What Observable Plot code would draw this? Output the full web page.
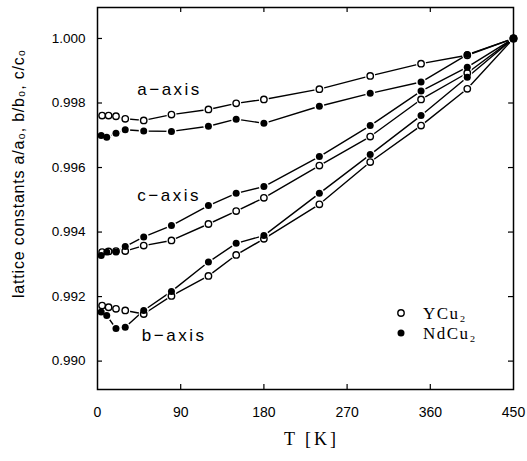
<!DOCTYPE html>
<html>
<head>
<meta charset="utf-8">
<script src="https://cdn.jsdelivr.net/npm/d3@7"></script>
<script src="https://cdn.jsdelivr.net/npm/@observablehq/plot@0.6"></script>
<style>
  html, body { margin: 0; padding: 0; background: white; }
</style>
</head>
<body>
<div id="chart"></div>
<script>
// Temperatures (K)
const tempsY  = [5, 12, 20, 30, 50, 80, 120, 150, 180, 240, 295, 350, 400, 450];
const tempsNd = [4, 10, 20, 30, 50, 80, 120, 150, 180, 240, 295, 350, 400, 450];

// Relative lattice constants, YCu2 (open circles)
const aYCu2 = [0.99761, 0.99761, 0.99759, 0.99751, 0.99746, 0.99764, 0.99780, 0.99799, 0.99811, 0.99843, 0.99884, 0.99922, 0.99948, 1.0000];
const bYCu2 = [0.99172, 0.99167, 0.99162, 0.99157, 0.99146, 0.99202, 0.99264, 0.99329, 0.99379, 0.99486, 0.99617, 0.99730, 0.99844, 1.0000];
const cYCu2 = [0.99338, 0.99340, 0.99341, 0.99341, 0.99358, 0.99374, 0.99425, 0.99465, 0.99506, 0.99606, 0.99696, 0.99811, 0.99893, 1.0000];

// Relative lattice constants, NdCu2 (filled circles)
const aNdCu2 = [0.99699, 0.99694, 0.99706, 0.99717, 0.99713, 0.99712, 0.99728, 0.99750, 0.99737, 0.99790, 0.99830, 0.99865, 0.99950, 1.0000];
const bNdCu2 = [0.99152, 0.99141, 0.99101, 0.99105, 0.99157, 0.99216, 0.99307, 0.99365, 0.99389, 0.99520, 0.99640, 0.99761, 0.99880, 1.0000];
const cNdCu2 = [0.99327, 0.99338, 0.99338, 0.99355, 0.99385, 0.99420, 0.99482, 0.99520, 0.99541, 0.99634, 0.99730, 0.99837, 0.99911, 1.0000];

const compounds = ["YCu₂", "NdCu₂"];
const axisNames = ["a−axis", "b−axis", "c−axis"];
// label anchor (data units) for each axis annotation
const axisLabelT = [43, 48, 43];
const axisLabelV = [0.99842, 0.99079, 0.99513];

const xTicks = [0, 90, 180, 270, 360, 450];
const yTicks = [0.990, 0.992, 0.994, 0.996, 0.998, 1.000];
const xLabel = "T [K]";
const yLabel = "lattice constants a/a₀, b/b₀, c/c₀";

// Build table
const series = [
  {axis: "a", compound: compounds[0], T: tempsY, v: aYCu2},
  {axis: "b", compound: compounds[0], T: tempsY, v: bYCu2},
  {axis: "c", compound: compounds[0], T: tempsY, v: cYCu2},
  {axis: "a", compound: compounds[1], T: tempsNd, v: aNdCu2},
  {axis: "b", compound: compounds[1], T: tempsNd, v: bNdCu2},
  {axis: "c", compound: compounds[1], T: tempsNd, v: cNdCu2}
];
const rows = series.flatMap(s => s.v.map((v, i) => ({T: s.T[i], v, axis: s.axis, compound: s.compound, key: s.axis + s.compound})));
const rowsY = rows.filter(d => d.compound === compounds[0]);
const rowsNd = rows.filter(d => d.compound === compounds[1]);
const annotations = axisNames.map((name, i) => ({name, T: axisLabelT[i], v: axisLabelV[i]}));

const W = 527, H = 461;
const mL = 97, mR = 14, mT = 7, mB = 72;
const pw = W - mL - mR, ph = H - mT - mB;
const tl = 5;

const chart = Plot.plot({
  width: W, height: H,
  marginLeft: mL, marginRight: mR, marginTop: mT, marginBottom: mB,
  style: {fontFamily: "'Liberation Sans', Arial, sans-serif", fontSize: "13px", background: "white", color: "black"},
  x: {domain: [0, 450], label: null},
  y: {domain: [0.98912, 1.00096], label: null},
  marks: [
    Plot.axisX(xTicks, {tickSize: 0, tickPadding: 18, fontSize: 14, label: null}),
    Plot.axisY(yTicks, {tickSize: 0, tickPadding: 12, fontSize: 13.5, tickFormat: d => d.toFixed(3), label: null}),
    // inward ticks
    Plot.tickX(xTicks.slice(1, -1), {x: d => d, insetBottom: ph - tl, stroke: "black", strokeWidth: 1.2}),
    Plot.tickX(xTicks.slice(1, -1), {x: d => d, insetTop: ph - tl, stroke: "black", strokeWidth: 1.2}),
    Plot.tickY(yTicks, {y: d => d, insetRight: pw - tl, stroke: "black", strokeWidth: 1.2}),
    Plot.tickY(yTicks, {y: d => d, insetLeft: pw - tl, stroke: "black", strokeWidth: 1.2}),
    // lines
    Plot.line(rows, {x: "T", y: "v", z: "key", stroke: "black", strokeWidth: 1.4}),
    // halos to create gaps around markers
    Plot.dot(rows, {x: "T", y: "v", r: 5, fill: "white", stroke: "none"}),
    Plot.dot(rowsY, {x: "T", y: "v", r: 3.2, fill: "white", stroke: "black", strokeWidth: 1.4}),
    Plot.dot(rowsNd, {x: "T", y: "v", r: 3.5, fill: "black", stroke: "none"}),
    // axis annotations
    Plot.text(annotations, {x: "T", y: "v", text: "name", textAnchor: "start", fontSize: 17, fill: "black"}),
    Plot.frame({stroke: "black", strokeWidth: 1.5}),
    // axis titles
    Plot.text([xLabel], {frameAnchor: "bottom", textAnchor: "middle", dx: 6, dy: 55, fontSize: 18, fontFamily: "'Liberation Serif', serif", fill: "black"}),
    Plot.text([yLabel], {frameAnchor: "left", textAnchor: "middle", lineAnchor: "middle", rotate: -90, dx: -79, dy: -25, fontSize: 16, fill: "black"})
  ]
});

document.getElementById("chart").appendChild(chart);

// legend inside the frame, lower right
const svg = d3.select(chart);
const lg = svg.append("g").attr("transform", `translate(${W - mR - 112},${H - mB - 76})`);
compounds.forEach((c, i) => {
  const g = lg.append("g").attr("transform", `translate(0,${i * 20})`);
  g.append("circle").attr("r", i === 0 ? 3.2 : 3.5)
    .attr("fill", i === 0 ? "white" : "black")
    .attr("stroke", i === 0 ? "black" : "none").attr("stroke-width", 1.4);
  g.append("text").attr("x", 22).attr("dy", "0.35em").attr("text-anchor", "start")
    .attr("font-family", "'Liberation Serif', serif").attr("font-size", 17)
    .attr("letter-spacing", "1.5px").attr("fill", "black").text(c);
});
// letter spacing for annotations and titles
svg.selectAll("text").filter(function() { return /axis$/.test(this.textContent); }).attr("letter-spacing", "2.5px");
svg.selectAll("text").filter(function() { return this.textContent === xLabel; }).attr("letter-spacing", "3px");
svg.selectAll("text").filter(function() { return this.textContent === yLabel; }).attr("letter-spacing", "0.8px");
</script>
</body>
</html>
